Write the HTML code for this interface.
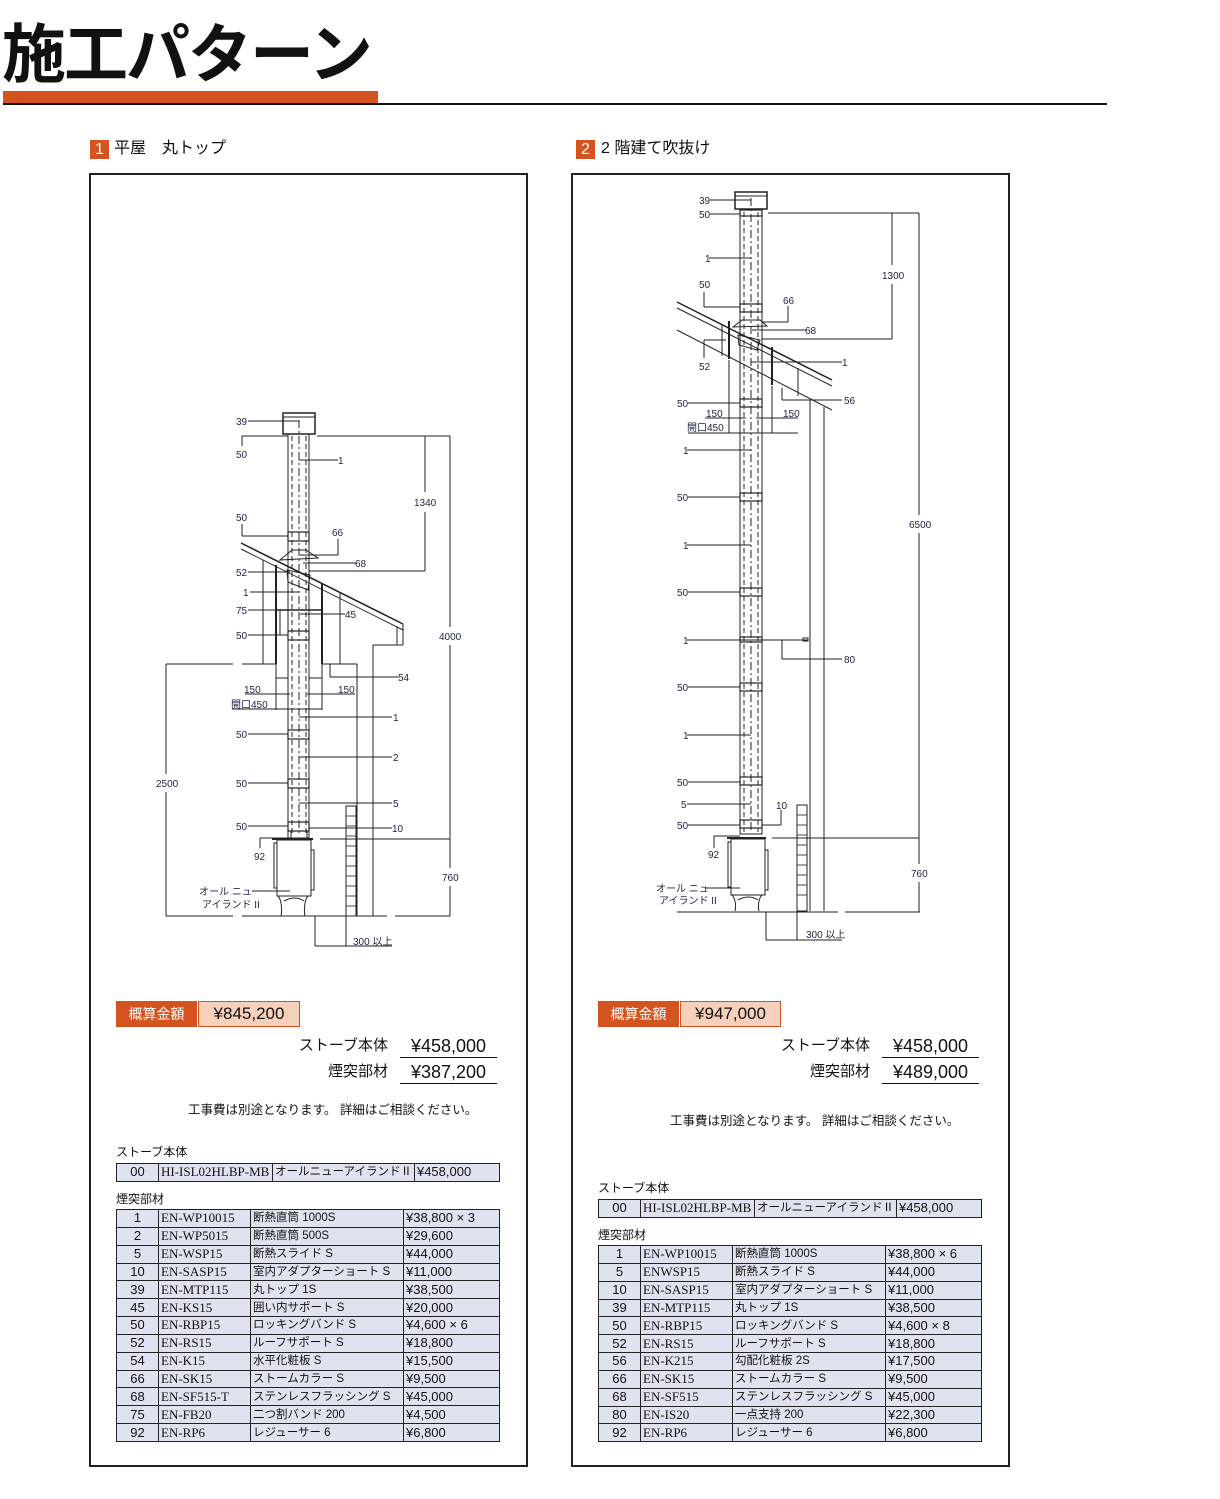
<!DOCTYPE html>
<html><head><meta charset="utf-8">
<style>
*{margin:0;padding:0;box-sizing:border-box}
body{width:1220px;height:1499px;background:#fff;position:relative;overflow:hidden;font-family:"Liberation Sans","Noto Sans CJK JP",sans-serif;color:#111}
.a{position:absolute;white-space:nowrap}
table{position:absolute;border-collapse:collapse;font-size:13px}
td{border:1px solid #222;background:#dfe3f0;height:17.85px;line-height:16px;padding:0 2px;white-space:nowrap;overflow:hidden}
td.n{text-align:center}
td.c{font-family:"Liberation Serif","Noto Serif CJK SC",serif;font-size:13px}
td.j{font-size:11.5px}
svg text{font-family:"Liberation Sans","Noto Sans CJK JP",sans-serif;font-size:10px;fill:#1c2340}
</style></head><body>
<div class="a" style="left:2px;top:10px;font-size:64px;font-weight:bold;line-height:80px;letter-spacing:-2px;font-family:'Noto Sans CJK JP',sans-serif">施工パターン</div>
<div class="a" style="left:3px;top:91px;width:375px;height:13px;background:#d4541f"></div>
<div class="a" style="left:3px;top:103px;width:1104px;height:2px;background:#111"></div>

<div class="a" style="left:90px;top:140px;width:19px;height:19px;background:#d4541f;color:#fff;font-size:16px;text-align:center;line-height:19px">1</div>
<div class="a" style="left:114px;top:138px;font-size:16px;line-height:22px">平屋　丸トップ</div>
<div class="a" style="left:576px;top:140px;width:19px;height:19px;background:#d4541f;color:#fff;font-size:16px;text-align:center;line-height:19px">2</div>
<div class="a" style="left:601px;top:138px;font-size:16px;line-height:22px">2 階建て吹抜け</div>

<div class="a" style="left:89px;top:173px;width:439px;height:1294px;border:2px solid #222"></div>
<div class="a" style="left:571px;top:173px;width:439px;height:1294px;border:2px solid #222"></div>

<svg class="a" style="left:0;top:0" width="1220" height="1499" viewBox="0 0 1220 1499">
<g stroke="#222" fill="none" stroke-width="1">
<!-- LEFT DIAGRAM -->
<rect x="283" y="413" width="32" height="21" stroke-width="1.5"/>
<line x1="283" y1="417" x2="315" y2="417"/>
<rect x="288" y="434" width="21" height="404"/>
<line x1="292" y1="436" x2="292" y2="836" stroke-dasharray="5,3"/>
<line x1="306" y1="436" x2="306" y2="836" stroke-dasharray="5,3"/>
<line x1="299" y1="420" x2="299" y2="836" stroke-dasharray="8,3,2,3"/>
<g stroke-width="1.2"><rect x="288" y="532" width="21" height="9"/><rect x="288" y="631" width="21" height="9"/><rect x="288" y="730" width="21" height="9"/><rect x="288" y="779" width="21" height="9"/><rect x="288" y="822" width="21" height="9"/></g>
<rect x="291" y="831" width="16" height="8"/>
<!-- flashing -->
<path d="M280 560 L292 550 L306 550 L318 558 Z"/>
<path d="M287 570 L310 575 L308 590 L288 582 Z"/>
<!-- roof -->
<line x1="241" y1="543" x2="403" y2="624" stroke-width="1.5"/>
<line x1="241" y1="549" x2="403" y2="630"/>
<line x1="397" y1="627" x2="397" y2="645"/><line x1="403" y1="624" x2="403" y2="645"/>
<line x1="373" y1="645" x2="403" y2="645"/>
<line x1="263" y1="560" x2="263" y2="664"/>
<line x1="276" y1="565" x2="276" y2="664" stroke-width="2"/>
<line x1="322" y1="584" x2="322" y2="664" stroke-width="2"/>
<line x1="340" y1="593" x2="340" y2="664"/>
<line x1="276" y1="610" x2="322" y2="610" stroke-width="1.5"/>
<line x1="280" y1="610" x2="280" y2="635"/>
<line x1="166" y1="664" x2="233" y2="664"/><line x1="242" y1="664" x2="276" y2="664"/>
<line x1="322" y1="664" x2="357" y2="664"/>
<line x1="276" y1="664" x2="276" y2="678"/><line x1="288" y1="678" x2="276" y2="678"/>
<line x1="322" y1="664" x2="322" y2="678"/><line x1="309" y1="678" x2="322" y2="678"/>
<line x1="276" y1="673" x2="276" y2="710"/><line x1="322" y1="673" x2="322" y2="710"/>
<line x1="357" y1="664" x2="357" y2="916"/>
<line x1="373" y1="645" x2="373" y2="916"/>
<line x1="166" y1="916" x2="233" y2="916"/><line x1="242" y1="916" x2="387" y2="916"/><line x1="395" y1="916" x2="450" y2="916"/>
<!-- dims -->
<line x1="317" y1="436" x2="450" y2="436"/>
<line x1="450" y1="436" x2="450" y2="627"/><line x1="450" y1="645" x2="450" y2="868"/><line x1="450" y1="886" x2="450" y2="916"/>
<line x1="425" y1="436" x2="425" y2="492"/><line x1="425" y1="512" x2="425" y2="571"/>
<line x1="309" y1="571" x2="425" y2="571"/>
<line x1="320" y1="839" x2="450" y2="839"/>
<line x1="166" y1="664" x2="166" y2="774"/><line x1="166" y1="792" x2="166" y2="916"/>
<rect x="346" y="806" width="10" height="110"/>
<g stroke-width="0.8"><line x1="346" y1="816" x2="356" y2="816"/><line x1="346" y1="826" x2="356" y2="826"/><line x1="346" y1="836" x2="356" y2="836"/><line x1="346" y1="846" x2="356" y2="846"/><line x1="346" y1="856" x2="356" y2="856"/><line x1="346" y1="866" x2="356" y2="866"/><line x1="346" y1="876" x2="356" y2="876"/><line x1="346" y1="886" x2="356" y2="886"/><line x1="346" y1="896" x2="356" y2="896"/><line x1="346" y1="906" x2="356" y2="906"/></g>
<line x1="315" y1="916" x2="315" y2="946"/><line x1="346" y1="916" x2="346" y2="946"/><line x1="315" y1="946" x2="392" y2="946"/>
<!-- stove -->
<line x1="272" y1="839" x2="313" y2="839" stroke-width="2"/>
<rect x="277" y="840" width="34" height="56"/>
<rect x="274" y="843" width="3" height="45"/><rect x="311" y="850" width="3" height="40"/>
<path d="M278 896 C282 900 282 912 281 916 M308 896 C304 900 304 912 305 916 M284 901 Q295 895 304 901"/>
<!-- leaders left -->
<line x1="248" y1="421" x2="299" y2="421"/>
<line x1="242" y1="436" x2="288" y2="436"/><line x1="242" y1="436" x2="242" y2="446"/>
<line x1="299" y1="460" x2="338" y2="460"/>
<line x1="242" y1="524" x2="242" y2="536"/><line x1="242" y1="536" x2="288" y2="536"/>
<line x1="338" y1="539" x2="338" y2="555"/><line x1="300" y1="555" x2="338" y2="555"/>
<line x1="303" y1="563" x2="356" y2="563"/>
<line x1="248" y1="572" x2="290" y2="572"/>
<line x1="250" y1="592" x2="299" y2="592"/>
<line x1="248" y1="610" x2="299" y2="610"/>
<line x1="300" y1="614" x2="345" y2="614"/>
<line x1="248" y1="635" x2="288" y2="635"/>
<line x1="330" y1="664" x2="330" y2="677"/><line x1="330" y1="677" x2="398" y2="677"/>
<line x1="245" y1="694" x2="290" y2="694"/><line x1="307" y1="694" x2="355" y2="694"/>
<line x1="232" y1="709" x2="322" y2="709"/>
<line x1="299" y1="717" x2="392" y2="717"/>
<line x1="248" y1="734" x2="288" y2="734"/>
<line x1="299" y1="757" x2="392" y2="757"/>
<line x1="248" y1="783" x2="288" y2="783"/>
<line x1="299" y1="803" x2="392" y2="803"/>
<line x1="248" y1="826" x2="288" y2="826"/>
<line x1="309" y1="828" x2="392" y2="828"/>
<line x1="260" y1="838" x2="260" y2="848"/><line x1="260" y1="838" x2="290" y2="838"/>
<line x1="252" y1="891" x2="290" y2="891"/>

<!-- RIGHT DIAGRAM -->
<rect x="735" y="192" width="32" height="17" stroke-width="1.5"/>
<line x1="735" y1="196" x2="767" y2="196"/>
<rect x="740" y="209" width="22" height="625"/>
<line x1="744" y1="212" x2="744" y2="832" stroke-dasharray="5,3"/>
<line x1="758" y1="212" x2="758" y2="832" stroke-dasharray="5,3"/>
<line x1="751" y1="198" x2="751" y2="832" stroke-dasharray="8,3,2,3"/>
<g stroke-width="1.2"><rect x="740" y="210" width="22" height="6"/><rect x="740" y="304" width="22" height="8"/><rect x="740" y="399" width="22" height="8"/><rect x="740" y="493" width="22" height="8"/><rect x="740" y="588" width="22" height="8"/><rect x="740" y="637" width="22" height="5"/><rect x="740" y="683" width="22" height="8"/><rect x="740" y="777" width="22" height="8"/><rect x="740" y="820" width="22" height="8"/></g>
<path d="M733 327 L742 320 L760 320 L767 326 Z"/>
<path d="M738 335 L760 340 L757 350 L739 345 Z"/>
<line x1="677" y1="302" x2="832" y2="380" stroke-width="1.5"/>
<line x1="677" y1="308" x2="832" y2="386"/>
<line x1="677" y1="330" x2="832" y2="410"/>
<line x1="722" y1="325" x2="722" y2="356"/>
<line x1="729" y1="321" x2="729" y2="359" stroke-width="2"/>
<line x1="772" y1="347" x2="772" y2="385" stroke-width="2"/>
<line x1="798" y1="368" x2="798" y2="396"/>
<line x1="729" y1="360" x2="729" y2="433"/><line x1="772" y1="386" x2="772" y2="433"/>
<line x1="810" y1="400" x2="810" y2="911"/>
<line x1="824" y1="407" x2="824" y2="911"/>
<line x1="677" y1="912" x2="838" y2="912"/><line x1="845" y1="912" x2="920" y2="912"/>
<line x1="768" y1="213" x2="919" y2="213"/>
<line x1="919" y1="213" x2="919" y2="515"/><line x1="919" y1="533" x2="919" y2="864"/><line x1="919" y1="882" x2="919" y2="912"/>
<line x1="892" y1="213" x2="892" y2="265"/><line x1="892" y1="284" x2="892" y2="339"/>
<line x1="762" y1="339" x2="892" y2="339"/>
<line x1="772" y1="838" x2="919" y2="838"/>
<rect x="797" y="805" width="10" height="106"/>
<g stroke-width="0.8"><line x1="797" y1="815" x2="807" y2="815"/><line x1="797" y1="825" x2="807" y2="825"/><line x1="797" y1="835" x2="807" y2="835"/><line x1="797" y1="845" x2="807" y2="845"/><line x1="797" y1="855" x2="807" y2="855"/><line x1="797" y1="865" x2="807" y2="865"/><line x1="797" y1="875" x2="807" y2="875"/><line x1="797" y1="885" x2="807" y2="885"/><line x1="797" y1="895" x2="807" y2="895"/></g>
<line x1="766" y1="912" x2="766" y2="940"/><line x1="797" y1="912" x2="797" y2="940"/><line x1="766" y1="940" x2="842" y2="940"/>
<line x1="727" y1="838" x2="766" y2="838" stroke-width="2"/>
<rect x="731" y="839" width="34" height="56"/>
<rect x="728" y="842" width="3" height="45"/><rect x="765" y="850" width="3" height="40"/>
<path d="M732 895 C736 899 736 908 735 911 M762 895 C758 899 758 908 759 911 M738 900 Q749 894 758 900"/>
<!-- leaders right -->
<line x1="710" y1="200" x2="751" y2="200"/>
<line x1="710" y1="214" x2="740" y2="214"/>
<line x1="709" y1="258" x2="751" y2="258"/>
<line x1="704" y1="292" x2="704" y2="307"/><line x1="704" y1="307" x2="740" y2="307"/>
<line x1="788" y1="306" x2="788" y2="322"/><line x1="762" y1="322" x2="788" y2="322"/>
<line x1="752" y1="330" x2="806" y2="330"/>
<line x1="704" y1="340" x2="704" y2="358"/><line x1="704" y1="340" x2="726" y2="340"/>
<line x1="751" y1="362" x2="842" y2="362"/>
<line x1="782" y1="388" x2="782" y2="400"/><line x1="782" y1="400" x2="842" y2="400"/>
<line x1="688" y1="403" x2="740" y2="403"/>
<line x1="705" y1="418" x2="746" y2="418"/><line x1="756" y1="418" x2="798" y2="418"/>
<line x1="688" y1="433" x2="798" y2="433"/>
<line x1="687" y1="450" x2="751" y2="450"/>
<line x1="688" y1="497" x2="740" y2="497"/>
<line x1="687" y1="545" x2="751" y2="545"/>
<line x1="688" y1="592" x2="740" y2="592"/>
<line x1="687" y1="640" x2="808" y2="640"/>
<rect x="803" y="638" width="5" height="3"/>
<line x1="782" y1="640" x2="782" y2="659"/><line x1="782" y1="659" x2="842" y2="659"/>
<line x1="688" y1="687" x2="740" y2="687"/>
<line x1="687" y1="735" x2="751" y2="735"/>
<line x1="688" y1="782" x2="740" y2="782"/>
<line x1="687" y1="804" x2="751" y2="804"/>
<line x1="781" y1="810" x2="781" y2="825"/><line x1="762" y1="825" x2="781" y2="825"/>
<line x1="688" y1="825" x2="740" y2="825"/>
<line x1="714" y1="836" x2="714" y2="848"/><line x1="714" y1="836" x2="740" y2="836"/>
<line x1="705" y1="888" x2="740" y2="888"/>
</g>
<g>
<text x="236" y="425">39</text><text x="236" y="458">50</text><text x="338" y="464">1</text><text x="414" y="506">1340</text>
<text x="236" y="521">50</text><text x="332" y="536">66</text><text x="355" y="567">68</text><text x="236" y="576">52</text>
<text x="243" y="596">1</text><text x="236" y="614">75</text><text x="345" y="618">45</text><text x="236" y="639">50</text>
<text x="439" y="640">4000</text><text x="398" y="681">54</text><text x="244" y="693">150</text><text x="338" y="693">150</text>
<text x="231" y="708">開口450</text><text x="393" y="721">1</text><text x="236" y="738">50</text><text x="393" y="761">2</text>
<text x="156" y="787">2500</text><text x="236" y="787">50</text><text x="393" y="807">5</text><text x="392" y="832">10</text>
<text x="236" y="830">50</text><text x="254" y="860">92</text><text x="442" y="881">760</text>
<text x="199" y="895">オール ニュー</text><text x="202" y="908">アイランド II</text><text x="353" y="945">300 以上</text>

<text x="699" y="204">39</text><text x="699" y="218">50</text><text x="705" y="262">1</text><text x="882" y="279">1300</text>
<text x="699" y="288">50</text><text x="783" y="304">66</text><text x="805" y="334">68</text><text x="699" y="370">52</text>
<text x="842" y="366">1</text><text x="677" y="407">50</text><text x="844" y="404">56</text><text x="706" y="417">150</text>
<text x="783" y="417">150</text><text x="687" y="431">開口450</text><text x="683" y="454">1</text><text x="677" y="501">50</text>
<text x="909" y="528">6500</text><text x="683" y="549">1</text><text x="677" y="596">50</text><text x="683" y="644">1</text>
<text x="844" y="663">80</text><text x="677" y="691">50</text><text x="683" y="739">1</text><text x="677" y="786">50</text>
<text x="681" y="808">5</text><text x="776" y="809">10</text><text x="677" y="829">50</text><text x="708" y="858">92</text>
<text x="911" y="877">760</text><text x="656" y="892">オール ニュー</text><text x="659" y="904">アイランド II</text><text x="806" y="938">300 以上</text>
</g>
</svg>

<!-- LEFT price -->
<div class="a" style="left:116px;top:1001px;width:81px;height:26px;background:#d4541f;color:#fff;font-size:14px;line-height:26px;text-align:center">概算金額</div>
<div class="a" style="left:198px;top:1001px;width:102px;height:26px;background:#f6d0ba;border:1px solid #d4541f;font-size:17px;line-height:24px;text-align:center">¥845,200</div>
<div class="a" style="left:280px;top:1036px;width:108px;text-align:right;font-size:15px;line-height:20px">ストーブ本体</div>
<div class="a" style="left:400px;top:1035px;width:97px;border-bottom:1.5px solid #111;font-size:18px;line-height:22px;text-align:center">¥458,000</div>
<div class="a" style="left:280px;top:1062px;width:108px;text-align:right;font-size:15px;line-height:20px">煙突部材</div>
<div class="a" style="left:400px;top:1061px;width:97px;border-bottom:1.5px solid #111;font-size:18px;line-height:22px;text-align:center">¥387,200</div>
<div class="a" style="left:188px;top:1101px;font-size:12.5px;line-height:18px">工事費は別途となります。 詳細はご相談ください。</div>
<div class="a" style="left:116px;top:1144px;font-size:12px;line-height:16px">ストーブ本体</div>
<table style="left:116px;top:1163px;width:384px"><tr><td class="n" style="width:42px">00</td><td class="c" style="width:114px">HI-ISL02HLBP-MB</td><td class="j" style="width:131px">オールニューアイランドⅡ</td><td>¥458,000</td></tr></table>
<div class="a" style="left:116px;top:1191px;font-size:12px;line-height:16px">煙突部材</div>
<table style="left:116px;top:1209px;width:384px">
<tr><td class="n" style="width:42px">1</td><td class="c" style="width:92px">EN-WP10015</td><td class="j" style="width:153px">断熱直筒 1000S</td><td>¥38,800 × 3</td></tr>
<tr><td class="n">2</td><td class="c">EN-WP5015</td><td class="j">断熱直筒 500S</td><td>¥29,600</td></tr>
<tr><td class="n">5</td><td class="c">EN-WSP15</td><td class="j">断熱スライド S</td><td>¥44,000</td></tr>
<tr><td class="n">10</td><td class="c">EN-SASP15</td><td class="j">室内アダプターショート S</td><td>¥11,000</td></tr>
<tr><td class="n">39</td><td class="c">EN-MTP115</td><td class="j">丸トップ 1S</td><td>¥38,500</td></tr>
<tr><td class="n">45</td><td class="c">EN-KS15</td><td class="j">囲い内サポート S</td><td>¥20,000</td></tr>
<tr><td class="n">50</td><td class="c">EN-RBP15</td><td class="j">ロッキングバンド S</td><td>¥4,600 × 6</td></tr>
<tr><td class="n">52</td><td class="c">EN-RS15</td><td class="j">ルーフサポート S</td><td>¥18,800</td></tr>
<tr><td class="n">54</td><td class="c">EN-K15</td><td class="j">水平化粧板 S</td><td>¥15,500</td></tr>
<tr><td class="n">66</td><td class="c">EN-SK15</td><td class="j">ストームカラー S</td><td>¥9,500</td></tr>
<tr><td class="n">68</td><td class="c">EN-SF515-T</td><td class="j">ステンレスフラッシング S</td><td>¥45,000</td></tr>
<tr><td class="n">75</td><td class="c">EN-FB20</td><td class="j">二つ割バンド 200</td><td>¥4,500</td></tr>
<tr><td class="n">92</td><td class="c">EN-RP6</td><td class="j">レジューサー 6</td><td>¥6,800</td></tr>
</table>

<!-- RIGHT price -->
<div class="a" style="left:598px;top:1001px;width:81px;height:26px;background:#d4541f;color:#fff;font-size:14px;line-height:26px;text-align:center">概算金額</div>
<div class="a" style="left:680px;top:1001px;width:101px;height:26px;background:#f6d0ba;border:1px solid #d4541f;font-size:17px;line-height:24px;text-align:center">¥947,000</div>
<div class="a" style="left:762px;top:1036px;width:108px;text-align:right;font-size:15px;line-height:20px">ストーブ本体</div>
<div class="a" style="left:882px;top:1035px;width:97px;border-bottom:1.5px solid #111;font-size:18px;line-height:22px;text-align:center">¥458,000</div>
<div class="a" style="left:762px;top:1062px;width:108px;text-align:right;font-size:15px;line-height:20px">煙突部材</div>
<div class="a" style="left:882px;top:1061px;width:97px;border-bottom:1.5px solid #111;font-size:18px;line-height:22px;text-align:center">¥489,000</div>
<div class="a" style="left:670px;top:1112px;font-size:12.5px;line-height:18px">工事費は別途となります。 詳細はご相談ください。</div>
<div class="a" style="left:598px;top:1180px;font-size:12px;line-height:16px">ストーブ本体</div>
<table style="left:598px;top:1199px;width:384px"><tr><td class="n" style="width:42px">00</td><td class="c" style="width:114px">HI-ISL02HLBP-MB</td><td class="j" style="width:131px">オールニューアイランドⅡ</td><td>¥458,000</td></tr></table>
<div class="a" style="left:598px;top:1227px;font-size:12px;line-height:16px">煙突部材</div>
<table style="left:598px;top:1245px;width:384px">
<tr><td class="n" style="width:42px">1</td><td class="c" style="width:92px">EN-WP10015</td><td class="j" style="width:153px">断熱直筒 1000S</td><td>¥38,800 × 6</td></tr>
<tr><td class="n">5</td><td class="c">ENWSP15</td><td class="j">断熱スライド S</td><td>¥44,000</td></tr>
<tr><td class="n">10</td><td class="c">EN-SASP15</td><td class="j">室内アダプターショート S</td><td>¥11,000</td></tr>
<tr><td class="n">39</td><td class="c">EN-MTP115</td><td class="j">丸トップ 1S</td><td>¥38,500</td></tr>
<tr><td class="n">50</td><td class="c">EN-RBP15</td><td class="j">ロッキングバンド S</td><td>¥4,600 × 8</td></tr>
<tr><td class="n">52</td><td class="c">EN-RS15</td><td class="j">ルーフサポート S</td><td>¥18,800</td></tr>
<tr><td class="n">56</td><td class="c">EN-K215</td><td class="j">勾配化粧板 2S</td><td>¥17,500</td></tr>
<tr><td class="n">66</td><td class="c">EN-SK15</td><td class="j">ストームカラー S</td><td>¥9,500</td></tr>
<tr><td class="n">68</td><td class="c">EN-SF515</td><td class="j">ステンレスフラッシング S</td><td>¥45,000</td></tr>
<tr><td class="n">80</td><td class="c">EN-IS20</td><td class="j">一点支持 200</td><td>¥22,300</td></tr>
<tr><td class="n">92</td><td class="c">EN-RP6</td><td class="j">レジューサー 6</td><td>¥6,800</td></tr>
</table>
</body></html>
